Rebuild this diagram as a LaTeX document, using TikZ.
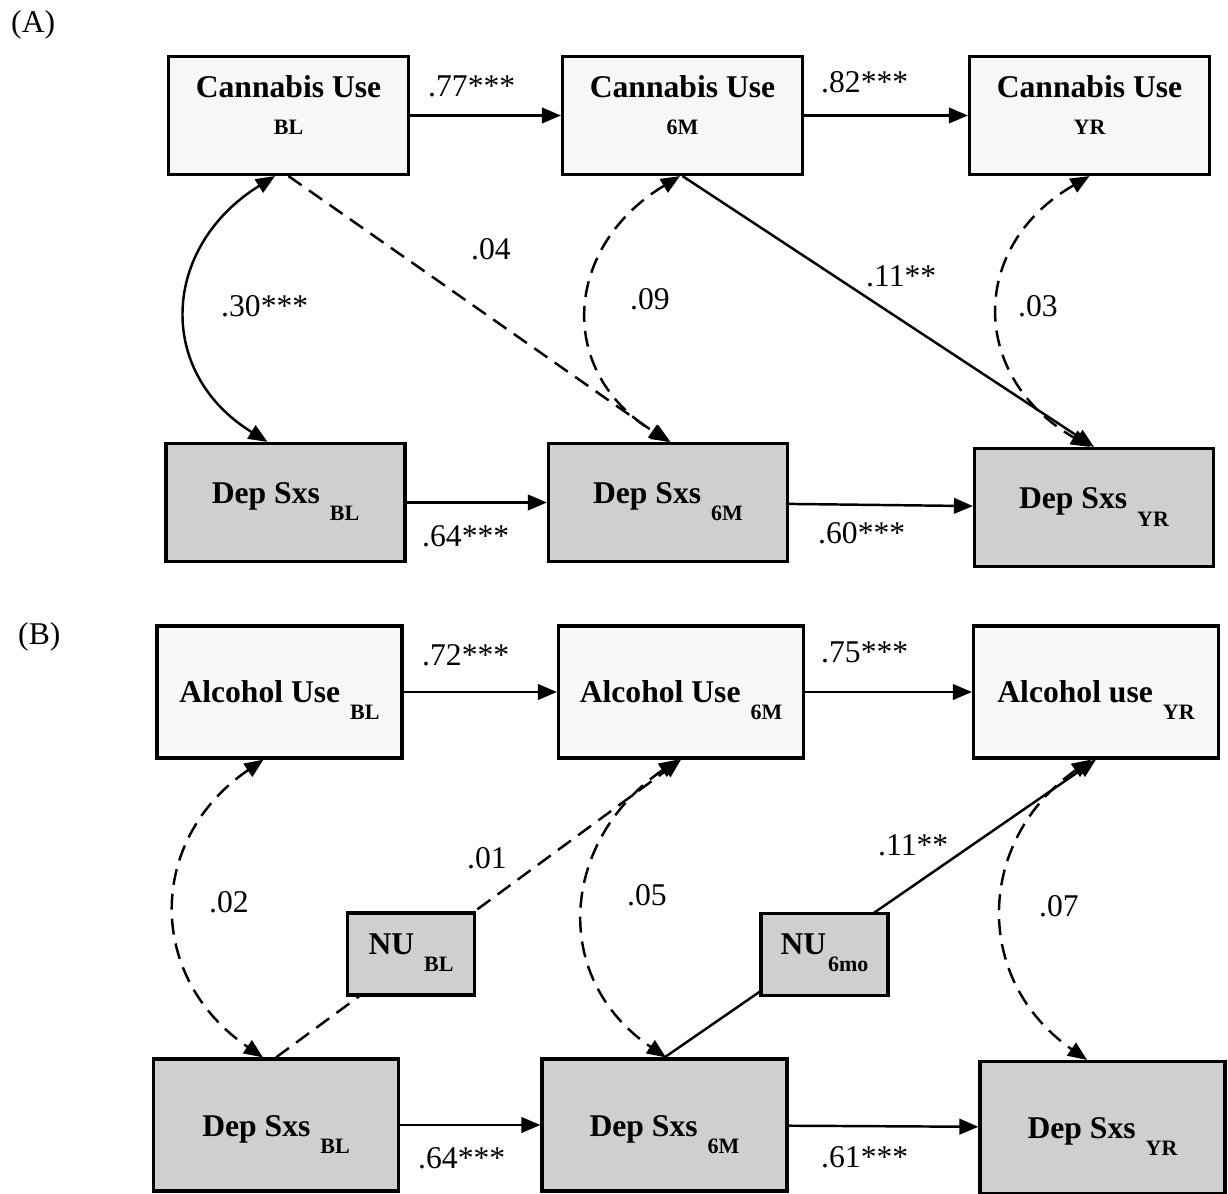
\documentclass[tikz,border=0pt]{standalone}
\usepackage{fontspec}
\setmainfont{Liberation Serif}
\usetikzlibrary{arrows.meta}
\definecolor{lite}{RGB}{247,247,247}
\definecolor{shade}{RGB}{207,206,208}
\newcommand{\subf}{\fontsize{12.5}{14}\selectfont}
% name over its wave, in two lines
\newcommand{\stacked}[2]{\raisebox{-3.9mm}[0pt][0pt]{\begin{tabular}[b]{@{}c@{}}#1\\{\subf #2}\end{tabular}}}
% name with the wave set low behind it
\newcommand{\lowsub}[4][2mm]{\raisebox{#2}[0pt][0pt]{#3\hspace{#1}\raisebox{-3.4mm}{\subf #4}}}

\begin{document}
\begin{tikzpicture}[x=0.2mm, y=-0.2mm, font=\fontsize{18}{21.6}\selectfont, line width=1.4pt, >={Triangle[length=3.8mm, width=3.1mm]}, box/.style = {draw, rectangle, line width=1.8pt, inner sep=0pt, font=\fontsize{18}{21.6}\selectfont\bfseries}, main/.style = {box, fill=lite, minimum width=48mm, minimum height=23.6mm}, dep/.style = {box, fill=shade, minimum width=47.8mm, minimum height=23.6mm}, big/.style = {minimum width=49mm, minimum height=26.4mm}, nu/.style = {box, fill=shade, minimum width=25.4mm, minimum height=16.4mm}, dline/.style = {dash pattern=on 3.2mm off 1.8mm}, coef/.style = {anchor=base west, inner sep=0pt}]
                \useasboundingbox (0,0) rectangle (1228,1194);
                % (A) cannabis
                \node[coef] (pA) at (10,33) {(A)};
                \node[main] (cA0) at (288.5,115.5) {\stacked{Cannabis Use}{BL}};
                \node[main] (cA1) [right of=cA0, node distance=78.8mm] {\stacked{Cannabis Use}{6M}};
                \node[main] (cA2) [right of=cA1, node distance=81.4mm] {\stacked{Cannabis Use}{YR}};
                \node[dep] (dA0) at (285.5,502.5) {\lowsub{-0.3mm}{Dep Sxs}{BL}};
                \node[dep] (dA1) [right of=dA0, node distance=76.5mm] {\lowsub{-0.3mm}{Dep Sxs}{6M}};
                \node[dep] (dA2) [right of=dA1, node distance=85.2mm, yshift=-1mm] {\lowsub{-0.3mm}{Dep Sxs}{YR}};
                \draw[->] (cA0) -- (cA1);
                \draw[->] (cA1) -- (cA2);
                \draw[->] (dA0) -- (dA1);
                \draw[->] (dA1) -- (dA2);
                \draw[->, dline] (cA0.south) -- (dA1.north);
                \draw[->] (cA1.south) -- (dA2.north);
                \draw[<->] ([xshift=-2.7mm]cA0.south) .. controls +(-113,70) and +(-113,-70) .. ([xshift=-3.6mm]dA0.north);
                \draw[<->, dline] ([xshift=-0.5mm]cA1.south) .. controls +(-116,70) and +(-116,-70) .. ([xshift=0.5mm]dA1.north);
                \draw[<->, dline] (cA2.south) .. controls +(-121,70) and +(-121,-70) .. ([xshift=-0.8mm]dA2.north);
                \node[coef] (wA1) at (427,97) {.77***};
                \node[coef] (wA2) at (820,93) {.82***};
                \node[coef] (wA3) at (470,260) {.04};
                \node[coef] (wA4) at (220,317) {.30***};
                \node[coef] (wA5) at (629,310) {.09};
                \node[coef] (wA6) at (865,287) {.11**};
                \node[coef] (wA7) at (1017,317) {.03};
                \node[coef] (wA8) at (421,547) {.64***};
                \node[coef] (wA9) at (817,543) {.60***};
                % (B) alcohol
                \node[coef] (pB) at (17,644) {(B)};
                \node[main, big] (aB0) at (279.5,692) {\lowsub{-2mm}{Alcohol Use}{BL}};
                \node[main, big] (aB1) [right of=aB0, node distance=80.3mm] {\lowsub{-2mm}{Alcohol Use}{6M}};
                \node[main, big] (aB2) [right of=aB1, node distance=83mm] {\lowsub{-2mm}{Alcohol use}{YR}};
                \node[dep, big] (dB0) at (276,1125) {\lowsub{-2.2mm}{Dep Sxs}{BL}};
                \node[dep, big] (dB1) [right of=dB0, node distance=77.7mm] {\lowsub{-2.2mm}{Dep Sxs}{6M}};
                \node[dep, big] (dB2) [right of=dB1, node distance=87.6mm, yshift=-0.5mm] {\lowsub{-2.2mm}{Dep Sxs}{YR}};
                \draw[->] (aB0) -- (aB1);
                \draw[->] (aB1) -- (aB2);
                \draw[->] (dB0) -- (dB1);
                \draw[->] (dB1) -- (dB2);
                \draw[->, dline] (dB0.north) -- (aB1.south);
                \draw[->] (dB1.north) -- (aB2.south);
                \node[nu] (nB0) at (411,954) {\lowsub{0mm}{NU}{BL}};
                \node[nu] (nB1) at (824.5,954.5) {\lowsub[0.4mm]{0mm}{NU}{6mo}};
                \draw[<->, dline] ([xshift=-3.2mm]aB0.south) .. controls +(-117,80) and +(-117,-80) .. ([xshift=-2.6mm]dB0.north);
                \draw[<->, dline] ([xshift=-0.6mm]aB1.south) .. controls +(-117,80) and +(-117,-80) .. ([xshift=0.3mm]dB1.north);
                \draw[<->, dline] ([xshift=-1mm]aB2.south) .. controls +(-115,80) and +(-115,-80) .. ([xshift=-3.1mm]dB2.north);
                \node[coef] (wB1) at (421,665) {.72***};
                \node[coef] (wB2) at (820,662) {.75***};
                \node[coef] (wB3) at (466,868) {.01};
                \node[coef] (wB4) at (208,912) {.02};
                \node[coef] (wB5) at (626,905) {.05};
                \node[coef] (wB6) at (877,855) {.11**};
                \node[coef] (wB7) at (1038,916) {.07};
                \node[coef] (wB8) at (417,1168) {.64***};
                \node[coef] (wB9) at (820,1167) {.61***};
            \end{tikzpicture}
\end{document}
